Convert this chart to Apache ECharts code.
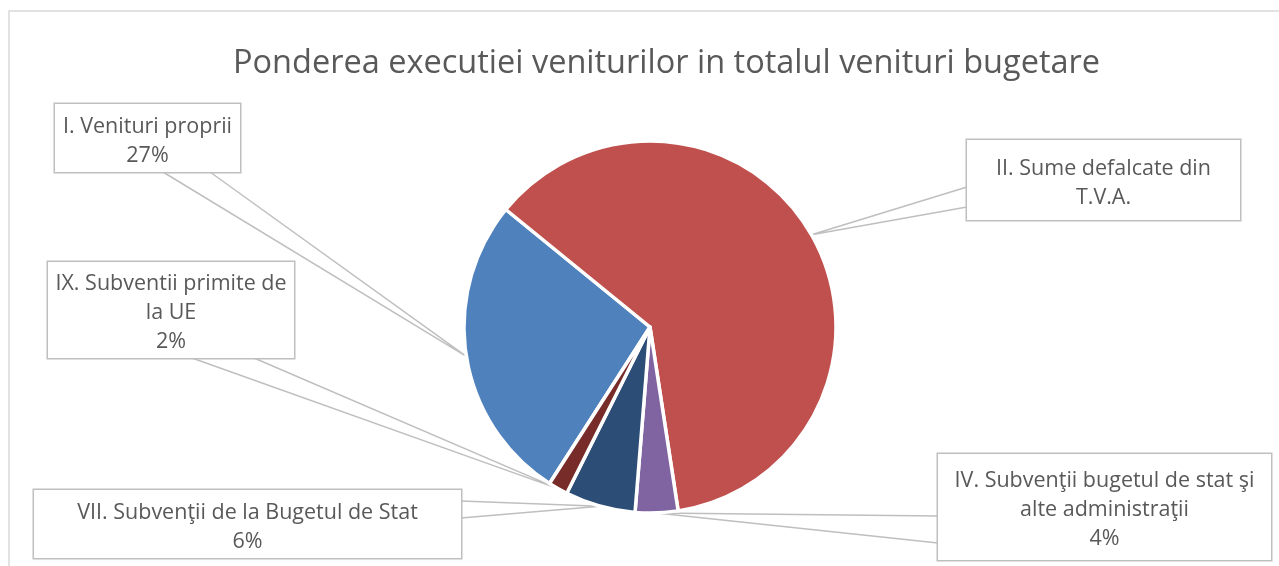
<!DOCTYPE html>
<html>
<head>
<meta charset="utf-8">
<script src="https://cdn.jsdelivr.net/npm/echarts@6/dist/echarts.min.js"></script>
<style>
  html, body { margin: 0; padding: 0; background: #fff; }
  #chart { width: 1279px; height: 566px; }
</style>
</head>
<body>
<div id="chart"></div>
<script>
// categories, with the line breaks used in the callouts
const names = [
  "I. Venituri proprii",
  "II. Sume defalcate din\nT.V.A.",
  "IV. Subvenţii bugetul de stat şi\nalte administraţii",
  "VII. Subvenţii de la Bugetul de Stat",
  "IX. Subventii primite de\nla UE"
];
// share of each revenue source (%)
const values = [26.8, 61.7, 3.7, 6.1, 1.7];
const showPercent = [true, false, true, true, true];
const colors = ["#4F81BD", "#C0504D", "#8064A2", "#2C4D75", "#772C2A"];

// callout boxes: top-left, size and the two points where the pointer leaves the box
const boxes = [
  { x: 55, y: 104, w: 185, h: 68, p1: [163, 172], p2: [210, 172] },
  { x: 967, y: 140, w: 273, h: 80, p1: [967, 187], p2: [967, 207] },
  { x: 938, y: 454, w: 333, h: 106, p1: [938, 516], p2: [938, 543] },
  { x: 34, y: 490, w: 427, h: 68, p1: [461, 501], p2: [461, 518] },
  { x: 48, y: 262, w: 246, h: 96, p1: [192, 358], p2: [254, 358] }
];
const LH = 29;

const chart = echarts.init(document.getElementById("chart"), null, { renderer: "canvas" });

const data = names.map((name, i) => {
  const lines = name.split("\n").length + (showPercent[i] ? 1 : 0);
  const pv = (boxes[i].h - lines * LH) / 2;
  return {
    name: name,
    value: values[i],
    itemStyle: { color: colors[i] },
    label: { width: boxes[i].w, padding: [pv + 3, 0, pv - 3, 0] }
  };
});

const option = {
  animation: false,
  title: {
    text: "Ponderea executiei veniturilor in totalul venituri bugetare",
    left: 233,
    top: 47,
    padding: 0,
    textStyle: {
      fontFamily: "Open Sans",
      fontSize: 32.5,
      fontWeight: "normal",
      color: "#595959"
    }
  },
  graphic: [
    {
      type: "rect",
      silent: true,
      shape: { x: 9, y: 11, width: 1300, height: 600 },
      style: { fill: "none", stroke: "#d9d9d9", lineWidth: 1.5 }
    }
  ],
  series: [
    {
      type: "pie",
      center: [650, 327],
      radius: 186,
      startAngle: 237.3,
      clockwise: true,
      avoidLabelOverlap: false,
      itemStyle: { borderColor: "#fff", borderWidth: 3.5 },
      emphasis: { disabled: true },
      label: {
        show: true,
        position: "outside",
        fontFamily: "Open Sans",
        fontSize: 21.5,
        lineHeight: LH,
        color: "#595959",
        align: "center",
        backgroundColor: "#fff",
        borderColor: "#bfbfbf",
        borderWidth: 1.5,
        formatter: function (p) {
          return showPercent[p.dataIndex]
            ? p.name + "\n" + Math.round(p.percent) + "%"
            : p.name;
        }
      },
      labelLine: {
        show: true,
        length: 20,
        length2: 20,
        lineStyle: { color: "#bfbfbf", width: 1.5 }
      },
      labelLayout: function (p) {
        const b = boxes[p.dataIndex];
        const out = { x: b.x + b.w / 2, y: b.y, align: "center", verticalAlign: "top" };
        if (p.labelLinePoints) {
          out.labelLinePoints = [b.p1, p.labelLinePoints[0], b.p2];
        }
        return out;
      },
      data: data
    }
  ]
};

chart.setOption(option);
window.addEventListener("resize", chart.resize);
</script>
</body>
</html>
